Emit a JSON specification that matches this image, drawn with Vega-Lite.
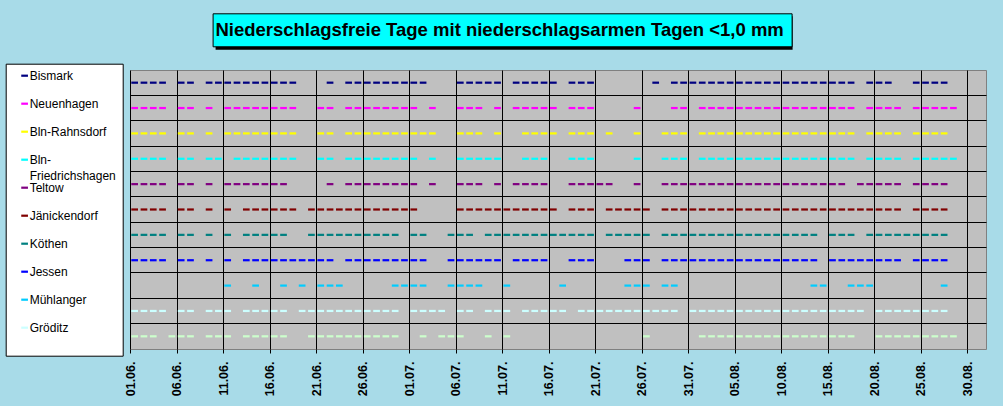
{
"$schema":"https://vega.github.io/schema/vega-lite/v6.json",
"width":856,"height":279,
"autosize":"none",
"padding":{"left":130,"top":70,"right":17,"bottom":57},
"background":"#a8dbe8",
"config":{"view":{"fill":"#c0c0c0","stroke":"#808080","strokeWidth":1},"font":"Liberation Sans"},
"data":{"values":[
{"s":"Bismark","d":"2024-06-01"},{"s":"Bismark","d":"2024-06-02"},{"s":"Bismark","d":"2024-06-03"},{"s":"Bismark","d":"2024-06-04"},{"s":"Bismark","d":"2024-06-06"},{"s":"Bismark","d":"2024-06-07"},{"s":"Bismark","d":"2024-06-09"},{"s":"Bismark","d":"2024-06-10"},{"s":"Bismark","d":"2024-06-11"},{"s":"Bismark","d":"2024-06-12"},{"s":"Bismark","d":"2024-06-13"},{"s":"Bismark","d":"2024-06-14"},{"s":"Bismark","d":"2024-06-15"},{"s":"Bismark","d":"2024-06-16"},{"s":"Bismark","d":"2024-06-17"},{"s":"Bismark","d":"2024-06-18"},{"s":"Bismark","d":"2024-06-22"},{"s":"Bismark","d":"2024-06-24"},{"s":"Bismark","d":"2024-06-25"},{"s":"Bismark","d":"2024-06-26"},{"s":"Bismark","d":"2024-06-27"},{"s":"Bismark","d":"2024-06-28"},{"s":"Bismark","d":"2024-06-29"},{"s":"Bismark","d":"2024-06-30"},
{"s":"Bismark","d":"2024-07-01"},{"s":"Bismark","d":"2024-07-02"},{"s":"Bismark","d":"2024-07-06"},{"s":"Bismark","d":"2024-07-07"},{"s":"Bismark","d":"2024-07-08"},{"s":"Bismark","d":"2024-07-09"},{"s":"Bismark","d":"2024-07-10"},{"s":"Bismark","d":"2024-07-12"},{"s":"Bismark","d":"2024-07-13"},{"s":"Bismark","d":"2024-07-14"},{"s":"Bismark","d":"2024-07-15"},{"s":"Bismark","d":"2024-07-16"},{"s":"Bismark","d":"2024-07-18"},{"s":"Bismark","d":"2024-07-19"},{"s":"Bismark","d":"2024-07-20"},{"s":"Bismark","d":"2024-07-27"},{"s":"Bismark","d":"2024-07-29"},{"s":"Bismark","d":"2024-07-30"},{"s":"Bismark","d":"2024-07-31"},
{"s":"Bismark","d":"2024-08-01"},{"s":"Bismark","d":"2024-08-02"},{"s":"Bismark","d":"2024-08-03"},{"s":"Bismark","d":"2024-08-04"},{"s":"Bismark","d":"2024-08-05"},{"s":"Bismark","d":"2024-08-06"},{"s":"Bismark","d":"2024-08-07"},{"s":"Bismark","d":"2024-08-08"},{"s":"Bismark","d":"2024-08-09"},{"s":"Bismark","d":"2024-08-10"},{"s":"Bismark","d":"2024-08-11"},{"s":"Bismark","d":"2024-08-12"},{"s":"Bismark","d":"2024-08-13"},{"s":"Bismark","d":"2024-08-14"},{"s":"Bismark","d":"2024-08-15"},{"s":"Bismark","d":"2024-08-16"},{"s":"Bismark","d":"2024-08-17"},{"s":"Bismark","d":"2024-08-19"},{"s":"Bismark","d":"2024-08-20"},{"s":"Bismark","d":"2024-08-21"},{"s":"Bismark","d":"2024-08-24"},{"s":"Bismark","d":"2024-08-25"},{"s":"Bismark","d":"2024-08-26"},{"s":"Bismark","d":"2024-08-27"},

{"s":"Neuenhagen","d":"2024-06-01"},{"s":"Neuenhagen","d":"2024-06-02"},{"s":"Neuenhagen","d":"2024-06-03"},{"s":"Neuenhagen","d":"2024-06-04"},{"s":"Neuenhagen","d":"2024-06-06"},{"s":"Neuenhagen","d":"2024-06-07"},{"s":"Neuenhagen","d":"2024-06-09"},{"s":"Neuenhagen","d":"2024-06-11"},{"s":"Neuenhagen","d":"2024-06-12"},{"s":"Neuenhagen","d":"2024-06-13"},{"s":"Neuenhagen","d":"2024-06-14"},{"s":"Neuenhagen","d":"2024-06-15"},{"s":"Neuenhagen","d":"2024-06-16"},{"s":"Neuenhagen","d":"2024-06-17"},{"s":"Neuenhagen","d":"2024-06-18"},{"s":"Neuenhagen","d":"2024-06-21"},{"s":"Neuenhagen","d":"2024-06-22"},{"s":"Neuenhagen","d":"2024-06-24"},{"s":"Neuenhagen","d":"2024-06-25"},{"s":"Neuenhagen","d":"2024-06-26"},{"s":"Neuenhagen","d":"2024-06-27"},{"s":"Neuenhagen","d":"2024-06-28"},{"s":"Neuenhagen","d":"2024-06-29"},{"s":"Neuenhagen","d":"2024-06-30"},
{"s":"Neuenhagen","d":"2024-07-01"},{"s":"Neuenhagen","d":"2024-07-03"},{"s":"Neuenhagen","d":"2024-07-06"},{"s":"Neuenhagen","d":"2024-07-07"},{"s":"Neuenhagen","d":"2024-07-08"},{"s":"Neuenhagen","d":"2024-07-10"},{"s":"Neuenhagen","d":"2024-07-12"},{"s":"Neuenhagen","d":"2024-07-13"},{"s":"Neuenhagen","d":"2024-07-14"},{"s":"Neuenhagen","d":"2024-07-15"},{"s":"Neuenhagen","d":"2024-07-16"},{"s":"Neuenhagen","d":"2024-07-18"},{"s":"Neuenhagen","d":"2024-07-19"},{"s":"Neuenhagen","d":"2024-07-20"},{"s":"Neuenhagen","d":"2024-07-25"},{"s":"Neuenhagen","d":"2024-07-29"},{"s":"Neuenhagen","d":"2024-07-30"},
{"s":"Neuenhagen","d":"2024-08-01"},{"s":"Neuenhagen","d":"2024-08-02"},{"s":"Neuenhagen","d":"2024-08-03"},{"s":"Neuenhagen","d":"2024-08-04"},{"s":"Neuenhagen","d":"2024-08-05"},{"s":"Neuenhagen","d":"2024-08-06"},{"s":"Neuenhagen","d":"2024-08-07"},{"s":"Neuenhagen","d":"2024-08-08"},{"s":"Neuenhagen","d":"2024-08-09"},{"s":"Neuenhagen","d":"2024-08-10"},{"s":"Neuenhagen","d":"2024-08-11"},{"s":"Neuenhagen","d":"2024-08-12"},{"s":"Neuenhagen","d":"2024-08-13"},{"s":"Neuenhagen","d":"2024-08-14"},{"s":"Neuenhagen","d":"2024-08-15"},{"s":"Neuenhagen","d":"2024-08-16"},{"s":"Neuenhagen","d":"2024-08-17"},{"s":"Neuenhagen","d":"2024-08-19"},{"s":"Neuenhagen","d":"2024-08-20"},{"s":"Neuenhagen","d":"2024-08-21"},{"s":"Neuenhagen","d":"2024-08-22"},{"s":"Neuenhagen","d":"2024-08-24"},{"s":"Neuenhagen","d":"2024-08-25"},{"s":"Neuenhagen","d":"2024-08-26"},{"s":"Neuenhagen","d":"2024-08-27"},{"s":"Neuenhagen","d":"2024-08-28"},

{"s":"Bln-Rahnsdorf","d":"2024-06-01"},{"s":"Bln-Rahnsdorf","d":"2024-06-02"},{"s":"Bln-Rahnsdorf","d":"2024-06-03"},{"s":"Bln-Rahnsdorf","d":"2024-06-04"},{"s":"Bln-Rahnsdorf","d":"2024-06-06"},{"s":"Bln-Rahnsdorf","d":"2024-06-07"},{"s":"Bln-Rahnsdorf","d":"2024-06-09"},{"s":"Bln-Rahnsdorf","d":"2024-06-11"},{"s":"Bln-Rahnsdorf","d":"2024-06-12"},{"s":"Bln-Rahnsdorf","d":"2024-06-13"},{"s":"Bln-Rahnsdorf","d":"2024-06-14"},{"s":"Bln-Rahnsdorf","d":"2024-06-15"},{"s":"Bln-Rahnsdorf","d":"2024-06-16"},{"s":"Bln-Rahnsdorf","d":"2024-06-17"},{"s":"Bln-Rahnsdorf","d":"2024-06-18"},{"s":"Bln-Rahnsdorf","d":"2024-06-21"},{"s":"Bln-Rahnsdorf","d":"2024-06-22"},{"s":"Bln-Rahnsdorf","d":"2024-06-24"},{"s":"Bln-Rahnsdorf","d":"2024-06-25"},{"s":"Bln-Rahnsdorf","d":"2024-06-26"},{"s":"Bln-Rahnsdorf","d":"2024-06-27"},{"s":"Bln-Rahnsdorf","d":"2024-06-28"},{"s":"Bln-Rahnsdorf","d":"2024-06-29"},{"s":"Bln-Rahnsdorf","d":"2024-06-30"},
{"s":"Bln-Rahnsdorf","d":"2024-07-01"},{"s":"Bln-Rahnsdorf","d":"2024-07-02"},{"s":"Bln-Rahnsdorf","d":"2024-07-03"},{"s":"Bln-Rahnsdorf","d":"2024-07-06"},{"s":"Bln-Rahnsdorf","d":"2024-07-07"},{"s":"Bln-Rahnsdorf","d":"2024-07-08"},{"s":"Bln-Rahnsdorf","d":"2024-07-10"},{"s":"Bln-Rahnsdorf","d":"2024-07-13"},{"s":"Bln-Rahnsdorf","d":"2024-07-14"},{"s":"Bln-Rahnsdorf","d":"2024-07-15"},{"s":"Bln-Rahnsdorf","d":"2024-07-16"},{"s":"Bln-Rahnsdorf","d":"2024-07-18"},{"s":"Bln-Rahnsdorf","d":"2024-07-19"},{"s":"Bln-Rahnsdorf","d":"2024-07-20"},{"s":"Bln-Rahnsdorf","d":"2024-07-22"},{"s":"Bln-Rahnsdorf","d":"2024-07-25"},{"s":"Bln-Rahnsdorf","d":"2024-07-28"},{"s":"Bln-Rahnsdorf","d":"2024-07-29"},{"s":"Bln-Rahnsdorf","d":"2024-07-30"},
{"s":"Bln-Rahnsdorf","d":"2024-08-01"},{"s":"Bln-Rahnsdorf","d":"2024-08-02"},{"s":"Bln-Rahnsdorf","d":"2024-08-03"},{"s":"Bln-Rahnsdorf","d":"2024-08-04"},{"s":"Bln-Rahnsdorf","d":"2024-08-05"},{"s":"Bln-Rahnsdorf","d":"2024-08-06"},{"s":"Bln-Rahnsdorf","d":"2024-08-07"},{"s":"Bln-Rahnsdorf","d":"2024-08-08"},{"s":"Bln-Rahnsdorf","d":"2024-08-09"},{"s":"Bln-Rahnsdorf","d":"2024-08-10"},{"s":"Bln-Rahnsdorf","d":"2024-08-11"},{"s":"Bln-Rahnsdorf","d":"2024-08-12"},{"s":"Bln-Rahnsdorf","d":"2024-08-13"},{"s":"Bln-Rahnsdorf","d":"2024-08-14"},{"s":"Bln-Rahnsdorf","d":"2024-08-15"},{"s":"Bln-Rahnsdorf","d":"2024-08-16"},{"s":"Bln-Rahnsdorf","d":"2024-08-17"},{"s":"Bln-Rahnsdorf","d":"2024-08-19"},{"s":"Bln-Rahnsdorf","d":"2024-08-20"},{"s":"Bln-Rahnsdorf","d":"2024-08-21"},{"s":"Bln-Rahnsdorf","d":"2024-08-22"},{"s":"Bln-Rahnsdorf","d":"2024-08-24"},{"s":"Bln-Rahnsdorf","d":"2024-08-25"},{"s":"Bln-Rahnsdorf","d":"2024-08-26"},{"s":"Bln-Rahnsdorf","d":"2024-08-27"},

{"s":"Bln-Friedrichshagen","d":"2024-06-01"},{"s":"Bln-Friedrichshagen","d":"2024-06-02"},{"s":"Bln-Friedrichshagen","d":"2024-06-03"},{"s":"Bln-Friedrichshagen","d":"2024-06-04"},{"s":"Bln-Friedrichshagen","d":"2024-06-06"},{"s":"Bln-Friedrichshagen","d":"2024-06-07"},{"s":"Bln-Friedrichshagen","d":"2024-06-09"},{"s":"Bln-Friedrichshagen","d":"2024-06-10"},{"s":"Bln-Friedrichshagen","d":"2024-06-12"},{"s":"Bln-Friedrichshagen","d":"2024-06-13"},{"s":"Bln-Friedrichshagen","d":"2024-06-14"},{"s":"Bln-Friedrichshagen","d":"2024-06-15"},{"s":"Bln-Friedrichshagen","d":"2024-06-16"},{"s":"Bln-Friedrichshagen","d":"2024-06-17"},{"s":"Bln-Friedrichshagen","d":"2024-06-18"},{"s":"Bln-Friedrichshagen","d":"2024-06-21"},{"s":"Bln-Friedrichshagen","d":"2024-06-22"},{"s":"Bln-Friedrichshagen","d":"2024-06-24"},{"s":"Bln-Friedrichshagen","d":"2024-06-25"},{"s":"Bln-Friedrichshagen","d":"2024-06-26"},{"s":"Bln-Friedrichshagen","d":"2024-06-27"},{"s":"Bln-Friedrichshagen","d":"2024-06-28"},{"s":"Bln-Friedrichshagen","d":"2024-06-29"},{"s":"Bln-Friedrichshagen","d":"2024-06-30"},
{"s":"Bln-Friedrichshagen","d":"2024-07-01"},{"s":"Bln-Friedrichshagen","d":"2024-07-03"},{"s":"Bln-Friedrichshagen","d":"2024-07-06"},{"s":"Bln-Friedrichshagen","d":"2024-07-07"},{"s":"Bln-Friedrichshagen","d":"2024-07-08"},{"s":"Bln-Friedrichshagen","d":"2024-07-09"},{"s":"Bln-Friedrichshagen","d":"2024-07-10"},{"s":"Bln-Friedrichshagen","d":"2024-07-13"},{"s":"Bln-Friedrichshagen","d":"2024-07-14"},{"s":"Bln-Friedrichshagen","d":"2024-07-15"},{"s":"Bln-Friedrichshagen","d":"2024-07-18"},{"s":"Bln-Friedrichshagen","d":"2024-07-19"},{"s":"Bln-Friedrichshagen","d":"2024-07-20"},{"s":"Bln-Friedrichshagen","d":"2024-07-25"},{"s":"Bln-Friedrichshagen","d":"2024-07-28"},{"s":"Bln-Friedrichshagen","d":"2024-07-29"},{"s":"Bln-Friedrichshagen","d":"2024-07-30"},
{"s":"Bln-Friedrichshagen","d":"2024-08-01"},{"s":"Bln-Friedrichshagen","d":"2024-08-02"},{"s":"Bln-Friedrichshagen","d":"2024-08-03"},{"s":"Bln-Friedrichshagen","d":"2024-08-04"},{"s":"Bln-Friedrichshagen","d":"2024-08-05"},{"s":"Bln-Friedrichshagen","d":"2024-08-06"},{"s":"Bln-Friedrichshagen","d":"2024-08-07"},{"s":"Bln-Friedrichshagen","d":"2024-08-08"},{"s":"Bln-Friedrichshagen","d":"2024-08-09"},{"s":"Bln-Friedrichshagen","d":"2024-08-10"},{"s":"Bln-Friedrichshagen","d":"2024-08-11"},{"s":"Bln-Friedrichshagen","d":"2024-08-12"},{"s":"Bln-Friedrichshagen","d":"2024-08-13"},{"s":"Bln-Friedrichshagen","d":"2024-08-14"},{"s":"Bln-Friedrichshagen","d":"2024-08-15"},{"s":"Bln-Friedrichshagen","d":"2024-08-16"},{"s":"Bln-Friedrichshagen","d":"2024-08-17"},{"s":"Bln-Friedrichshagen","d":"2024-08-19"},{"s":"Bln-Friedrichshagen","d":"2024-08-20"},{"s":"Bln-Friedrichshagen","d":"2024-08-21"},{"s":"Bln-Friedrichshagen","d":"2024-08-22"},{"s":"Bln-Friedrichshagen","d":"2024-08-24"},{"s":"Bln-Friedrichshagen","d":"2024-08-25"},{"s":"Bln-Friedrichshagen","d":"2024-08-26"},{"s":"Bln-Friedrichshagen","d":"2024-08-27"},{"s":"Bln-Friedrichshagen","d":"2024-08-28"},

{"s":"Teltow","d":"2024-06-01"},{"s":"Teltow","d":"2024-06-02"},{"s":"Teltow","d":"2024-06-03"},{"s":"Teltow","d":"2024-06-04"},{"s":"Teltow","d":"2024-06-06"},{"s":"Teltow","d":"2024-06-07"},{"s":"Teltow","d":"2024-06-09"},{"s":"Teltow","d":"2024-06-11"},{"s":"Teltow","d":"2024-06-12"},{"s":"Teltow","d":"2024-06-13"},{"s":"Teltow","d":"2024-06-14"},{"s":"Teltow","d":"2024-06-15"},{"s":"Teltow","d":"2024-06-16"},{"s":"Teltow","d":"2024-06-17"},{"s":"Teltow","d":"2024-06-22"},{"s":"Teltow","d":"2024-06-24"},{"s":"Teltow","d":"2024-06-25"},{"s":"Teltow","d":"2024-06-26"},{"s":"Teltow","d":"2024-06-27"},{"s":"Teltow","d":"2024-06-28"},{"s":"Teltow","d":"2024-06-29"},{"s":"Teltow","d":"2024-06-30"},
{"s":"Teltow","d":"2024-07-01"},{"s":"Teltow","d":"2024-07-03"},{"s":"Teltow","d":"2024-07-06"},{"s":"Teltow","d":"2024-07-07"},{"s":"Teltow","d":"2024-07-08"},{"s":"Teltow","d":"2024-07-10"},{"s":"Teltow","d":"2024-07-12"},{"s":"Teltow","d":"2024-07-13"},{"s":"Teltow","d":"2024-07-14"},{"s":"Teltow","d":"2024-07-15"},{"s":"Teltow","d":"2024-07-18"},{"s":"Teltow","d":"2024-07-19"},{"s":"Teltow","d":"2024-07-20"},{"s":"Teltow","d":"2024-07-21"},{"s":"Teltow","d":"2024-07-22"},{"s":"Teltow","d":"2024-07-25"},{"s":"Teltow","d":"2024-07-28"},{"s":"Teltow","d":"2024-07-29"},{"s":"Teltow","d":"2024-07-30"},{"s":"Teltow","d":"2024-07-31"},
{"s":"Teltow","d":"2024-08-01"},{"s":"Teltow","d":"2024-08-02"},{"s":"Teltow","d":"2024-08-03"},{"s":"Teltow","d":"2024-08-04"},{"s":"Teltow","d":"2024-08-05"},{"s":"Teltow","d":"2024-08-06"},{"s":"Teltow","d":"2024-08-07"},{"s":"Teltow","d":"2024-08-08"},{"s":"Teltow","d":"2024-08-09"},{"s":"Teltow","d":"2024-08-10"},{"s":"Teltow","d":"2024-08-11"},{"s":"Teltow","d":"2024-08-12"},{"s":"Teltow","d":"2024-08-13"},{"s":"Teltow","d":"2024-08-14"},{"s":"Teltow","d":"2024-08-15"},{"s":"Teltow","d":"2024-08-16"},{"s":"Teltow","d":"2024-08-18"},{"s":"Teltow","d":"2024-08-19"},{"s":"Teltow","d":"2024-08-20"},{"s":"Teltow","d":"2024-08-21"},{"s":"Teltow","d":"2024-08-22"},{"s":"Teltow","d":"2024-08-24"},{"s":"Teltow","d":"2024-08-25"},{"s":"Teltow","d":"2024-08-26"},{"s":"Teltow","d":"2024-08-27"},

{"s":"Jänickendorf","d":"2024-06-01"},{"s":"Jänickendorf","d":"2024-06-02"},{"s":"Jänickendorf","d":"2024-06-03"},{"s":"Jänickendorf","d":"2024-06-04"},{"s":"Jänickendorf","d":"2024-06-06"},{"s":"Jänickendorf","d":"2024-06-07"},{"s":"Jänickendorf","d":"2024-06-09"},{"s":"Jänickendorf","d":"2024-06-11"},{"s":"Jänickendorf","d":"2024-06-13"},{"s":"Jänickendorf","d":"2024-06-14"},{"s":"Jänickendorf","d":"2024-06-15"},{"s":"Jänickendorf","d":"2024-06-16"},{"s":"Jänickendorf","d":"2024-06-17"},{"s":"Jänickendorf","d":"2024-06-18"},{"s":"Jänickendorf","d":"2024-06-20"},{"s":"Jänickendorf","d":"2024-06-21"},{"s":"Jänickendorf","d":"2024-06-22"},{"s":"Jänickendorf","d":"2024-06-23"},{"s":"Jänickendorf","d":"2024-06-24"},{"s":"Jänickendorf","d":"2024-06-25"},{"s":"Jänickendorf","d":"2024-06-26"},{"s":"Jänickendorf","d":"2024-06-27"},{"s":"Jänickendorf","d":"2024-06-28"},{"s":"Jänickendorf","d":"2024-06-29"},{"s":"Jänickendorf","d":"2024-06-30"},
{"s":"Jänickendorf","d":"2024-07-01"},{"s":"Jänickendorf","d":"2024-07-06"},{"s":"Jänickendorf","d":"2024-07-07"},{"s":"Jänickendorf","d":"2024-07-08"},{"s":"Jänickendorf","d":"2024-07-09"},{"s":"Jänickendorf","d":"2024-07-10"},{"s":"Jänickendorf","d":"2024-07-11"},{"s":"Jänickendorf","d":"2024-07-12"},{"s":"Jänickendorf","d":"2024-07-13"},{"s":"Jänickendorf","d":"2024-07-14"},{"s":"Jänickendorf","d":"2024-07-15"},{"s":"Jänickendorf","d":"2024-07-16"},{"s":"Jänickendorf","d":"2024-07-18"},{"s":"Jänickendorf","d":"2024-07-19"},{"s":"Jänickendorf","d":"2024-07-20"},{"s":"Jänickendorf","d":"2024-07-22"},{"s":"Jänickendorf","d":"2024-07-23"},{"s":"Jänickendorf","d":"2024-07-24"},{"s":"Jänickendorf","d":"2024-07-25"},{"s":"Jänickendorf","d":"2024-07-26"},{"s":"Jänickendorf","d":"2024-07-28"},{"s":"Jänickendorf","d":"2024-07-29"},{"s":"Jänickendorf","d":"2024-07-30"},{"s":"Jänickendorf","d":"2024-07-31"},
{"s":"Jänickendorf","d":"2024-08-01"},{"s":"Jänickendorf","d":"2024-08-02"},{"s":"Jänickendorf","d":"2024-08-03"},{"s":"Jänickendorf","d":"2024-08-04"},{"s":"Jänickendorf","d":"2024-08-05"},{"s":"Jänickendorf","d":"2024-08-06"},{"s":"Jänickendorf","d":"2024-08-07"},{"s":"Jänickendorf","d":"2024-08-08"},{"s":"Jänickendorf","d":"2024-08-09"},{"s":"Jänickendorf","d":"2024-08-10"},{"s":"Jänickendorf","d":"2024-08-11"},{"s":"Jänickendorf","d":"2024-08-12"},{"s":"Jänickendorf","d":"2024-08-13"},{"s":"Jänickendorf","d":"2024-08-14"},{"s":"Jänickendorf","d":"2024-08-15"},{"s":"Jänickendorf","d":"2024-08-16"},{"s":"Jänickendorf","d":"2024-08-17"},{"s":"Jänickendorf","d":"2024-08-18"},{"s":"Jänickendorf","d":"2024-08-19"},{"s":"Jänickendorf","d":"2024-08-20"},{"s":"Jänickendorf","d":"2024-08-21"},{"s":"Jänickendorf","d":"2024-08-22"},{"s":"Jänickendorf","d":"2024-08-24"},{"s":"Jänickendorf","d":"2024-08-25"},{"s":"Jänickendorf","d":"2024-08-26"},{"s":"Jänickendorf","d":"2024-08-27"},

{"s":"Köthen","d":"2024-06-01"},{"s":"Köthen","d":"2024-06-02"},{"s":"Köthen","d":"2024-06-03"},{"s":"Köthen","d":"2024-06-04"},{"s":"Köthen","d":"2024-06-06"},{"s":"Köthen","d":"2024-06-07"},{"s":"Köthen","d":"2024-06-09"},{"s":"Köthen","d":"2024-06-11"},{"s":"Köthen","d":"2024-06-13"},{"s":"Köthen","d":"2024-06-14"},{"s":"Köthen","d":"2024-06-15"},{"s":"Köthen","d":"2024-06-16"},{"s":"Köthen","d":"2024-06-17"},{"s":"Köthen","d":"2024-06-20"},{"s":"Köthen","d":"2024-06-21"},{"s":"Köthen","d":"2024-06-22"},{"s":"Köthen","d":"2024-06-23"},{"s":"Köthen","d":"2024-06-24"},{"s":"Köthen","d":"2024-06-25"},{"s":"Köthen","d":"2024-06-26"},{"s":"Köthen","d":"2024-06-27"},{"s":"Köthen","d":"2024-06-28"},{"s":"Köthen","d":"2024-06-29"},
{"s":"Köthen","d":"2024-07-01"},{"s":"Köthen","d":"2024-07-02"},{"s":"Köthen","d":"2024-07-05"},{"s":"Köthen","d":"2024-07-06"},{"s":"Köthen","d":"2024-07-07"},{"s":"Köthen","d":"2024-07-09"},{"s":"Köthen","d":"2024-07-10"},{"s":"Köthen","d":"2024-07-11"},{"s":"Köthen","d":"2024-07-12"},{"s":"Köthen","d":"2024-07-13"},{"s":"Köthen","d":"2024-07-14"},{"s":"Köthen","d":"2024-07-15"},{"s":"Köthen","d":"2024-07-16"},{"s":"Köthen","d":"2024-07-17"},{"s":"Köthen","d":"2024-07-18"},{"s":"Köthen","d":"2024-07-19"},{"s":"Köthen","d":"2024-07-20"},{"s":"Köthen","d":"2024-07-22"},{"s":"Köthen","d":"2024-07-23"},{"s":"Köthen","d":"2024-07-24"},{"s":"Köthen","d":"2024-07-25"},{"s":"Köthen","d":"2024-07-26"},{"s":"Köthen","d":"2024-07-28"},{"s":"Köthen","d":"2024-07-29"},{"s":"Köthen","d":"2024-07-30"},{"s":"Köthen","d":"2024-07-31"},
{"s":"Köthen","d":"2024-08-01"},{"s":"Köthen","d":"2024-08-02"},{"s":"Köthen","d":"2024-08-03"},{"s":"Köthen","d":"2024-08-04"},{"s":"Köthen","d":"2024-08-05"},{"s":"Köthen","d":"2024-08-06"},{"s":"Köthen","d":"2024-08-07"},{"s":"Köthen","d":"2024-08-08"},{"s":"Köthen","d":"2024-08-09"},{"s":"Köthen","d":"2024-08-10"},{"s":"Köthen","d":"2024-08-11"},{"s":"Köthen","d":"2024-08-12"},{"s":"Köthen","d":"2024-08-13"},{"s":"Köthen","d":"2024-08-15"},{"s":"Köthen","d":"2024-08-16"},{"s":"Köthen","d":"2024-08-17"},{"s":"Köthen","d":"2024-08-19"},{"s":"Köthen","d":"2024-08-20"},{"s":"Köthen","d":"2024-08-21"},{"s":"Köthen","d":"2024-08-22"},{"s":"Köthen","d":"2024-08-23"},{"s":"Köthen","d":"2024-08-24"},{"s":"Köthen","d":"2024-08-25"},{"s":"Köthen","d":"2024-08-26"},{"s":"Köthen","d":"2024-08-27"},

{"s":"Jessen","d":"2024-06-01"},{"s":"Jessen","d":"2024-06-02"},{"s":"Jessen","d":"2024-06-03"},{"s":"Jessen","d":"2024-06-04"},{"s":"Jessen","d":"2024-06-06"},{"s":"Jessen","d":"2024-06-07"},{"s":"Jessen","d":"2024-06-09"},{"s":"Jessen","d":"2024-06-11"},{"s":"Jessen","d":"2024-06-13"},{"s":"Jessen","d":"2024-06-14"},{"s":"Jessen","d":"2024-06-15"},{"s":"Jessen","d":"2024-06-16"},{"s":"Jessen","d":"2024-06-17"},{"s":"Jessen","d":"2024-06-18"},{"s":"Jessen","d":"2024-06-19"},{"s":"Jessen","d":"2024-06-20"},{"s":"Jessen","d":"2024-06-21"},{"s":"Jessen","d":"2024-06-22"},{"s":"Jessen","d":"2024-06-24"},{"s":"Jessen","d":"2024-06-25"},{"s":"Jessen","d":"2024-06-26"},{"s":"Jessen","d":"2024-06-27"},{"s":"Jessen","d":"2024-06-28"},{"s":"Jessen","d":"2024-06-29"},{"s":"Jessen","d":"2024-06-30"},
{"s":"Jessen","d":"2024-07-01"},{"s":"Jessen","d":"2024-07-02"},{"s":"Jessen","d":"2024-07-05"},{"s":"Jessen","d":"2024-07-06"},{"s":"Jessen","d":"2024-07-07"},{"s":"Jessen","d":"2024-07-08"},{"s":"Jessen","d":"2024-07-09"},{"s":"Jessen","d":"2024-07-10"},{"s":"Jessen","d":"2024-07-12"},{"s":"Jessen","d":"2024-07-13"},{"s":"Jessen","d":"2024-07-14"},{"s":"Jessen","d":"2024-07-15"},{"s":"Jessen","d":"2024-07-18"},{"s":"Jessen","d":"2024-07-19"},{"s":"Jessen","d":"2024-07-20"},{"s":"Jessen","d":"2024-07-24"},{"s":"Jessen","d":"2024-07-25"},{"s":"Jessen","d":"2024-07-26"},{"s":"Jessen","d":"2024-07-28"},{"s":"Jessen","d":"2024-07-29"},{"s":"Jessen","d":"2024-07-30"},{"s":"Jessen","d":"2024-07-31"},
{"s":"Jessen","d":"2024-08-01"},{"s":"Jessen","d":"2024-08-02"},{"s":"Jessen","d":"2024-08-03"},{"s":"Jessen","d":"2024-08-04"},{"s":"Jessen","d":"2024-08-05"},{"s":"Jessen","d":"2024-08-06"},{"s":"Jessen","d":"2024-08-07"},{"s":"Jessen","d":"2024-08-08"},{"s":"Jessen","d":"2024-08-09"},{"s":"Jessen","d":"2024-08-10"},{"s":"Jessen","d":"2024-08-11"},{"s":"Jessen","d":"2024-08-12"},{"s":"Jessen","d":"2024-08-13"},{"s":"Jessen","d":"2024-08-15"},{"s":"Jessen","d":"2024-08-16"},{"s":"Jessen","d":"2024-08-17"},{"s":"Jessen","d":"2024-08-18"},{"s":"Jessen","d":"2024-08-19"},{"s":"Jessen","d":"2024-08-20"},{"s":"Jessen","d":"2024-08-21"},{"s":"Jessen","d":"2024-08-22"},{"s":"Jessen","d":"2024-08-24"},{"s":"Jessen","d":"2024-08-25"},{"s":"Jessen","d":"2024-08-26"},{"s":"Jessen","d":"2024-08-27"},

{"s":"Mühlanger","d":"2024-06-11"},{"s":"Mühlanger","d":"2024-06-14"},{"s":"Mühlanger","d":"2024-06-17"},{"s":"Mühlanger","d":"2024-06-19"},{"s":"Mühlanger","d":"2024-06-21"},{"s":"Mühlanger","d":"2024-06-22"},{"s":"Mühlanger","d":"2024-06-23"},{"s":"Mühlanger","d":"2024-06-29"},{"s":"Mühlanger","d":"2024-06-30"},{"s":"Mühlanger","d":"2024-07-01"},{"s":"Mühlanger","d":"2024-07-02"},{"s":"Mühlanger","d":"2024-07-05"},{"s":"Mühlanger","d":"2024-07-06"},{"s":"Mühlanger","d":"2024-07-07"},{"s":"Mühlanger","d":"2024-07-08"},{"s":"Mühlanger","d":"2024-07-11"},{"s":"Mühlanger","d":"2024-07-17"},{"s":"Mühlanger","d":"2024-07-24"},{"s":"Mühlanger","d":"2024-07-25"},{"s":"Mühlanger","d":"2024-07-26"},{"s":"Mühlanger","d":"2024-07-28"},{"s":"Mühlanger","d":"2024-07-29"},{"s":"Mühlanger","d":"2024-08-13"},{"s":"Mühlanger","d":"2024-08-14"},{"s":"Mühlanger","d":"2024-08-17"},{"s":"Mühlanger","d":"2024-08-18"},{"s":"Mühlanger","d":"2024-08-19"},{"s":"Mühlanger","d":"2024-08-27"},

{"s":"Gröditz","d":"2024-06-01"},{"s":"Gröditz","d":"2024-06-02"},{"s":"Gröditz","d":"2024-06-03"},{"s":"Gröditz","d":"2024-06-04"},{"s":"Gröditz","d":"2024-06-06"},{"s":"Gröditz","d":"2024-06-07"},{"s":"Gröditz","d":"2024-06-09"},{"s":"Gröditz","d":"2024-06-10"},{"s":"Gröditz","d":"2024-06-11"},{"s":"Gröditz","d":"2024-06-13"},{"s":"Gröditz","d":"2024-06-14"},{"s":"Gröditz","d":"2024-06-15"},{"s":"Gröditz","d":"2024-06-16"},{"s":"Gröditz","d":"2024-06-17"},{"s":"Gröditz","d":"2024-06-19"},{"s":"Gröditz","d":"2024-06-20"},{"s":"Gröditz","d":"2024-06-21"},{"s":"Gröditz","d":"2024-06-22"},{"s":"Gröditz","d":"2024-06-23"},{"s":"Gröditz","d":"2024-06-24"},{"s":"Gröditz","d":"2024-06-25"},{"s":"Gröditz","d":"2024-06-26"},{"s":"Gröditz","d":"2024-06-27"},{"s":"Gröditz","d":"2024-06-28"},{"s":"Gröditz","d":"2024-06-29"},
{"s":"Gröditz","d":"2024-07-01"},{"s":"Gröditz","d":"2024-07-02"},{"s":"Gröditz","d":"2024-07-03"},{"s":"Gröditz","d":"2024-07-04"},{"s":"Gröditz","d":"2024-07-06"},{"s":"Gröditz","d":"2024-07-07"},{"s":"Gröditz","d":"2024-07-09"},{"s":"Gröditz","d":"2024-07-10"},{"s":"Gröditz","d":"2024-07-11"},{"s":"Gröditz","d":"2024-07-13"},{"s":"Gröditz","d":"2024-07-14"},{"s":"Gröditz","d":"2024-07-15"},{"s":"Gröditz","d":"2024-07-16"},{"s":"Gröditz","d":"2024-07-17"},{"s":"Gröditz","d":"2024-07-19"},{"s":"Gröditz","d":"2024-07-20"},{"s":"Gröditz","d":"2024-07-21"},{"s":"Gröditz","d":"2024-07-22"},{"s":"Gröditz","d":"2024-07-23"},{"s":"Gröditz","d":"2024-07-24"},{"s":"Gröditz","d":"2024-07-25"},{"s":"Gröditz","d":"2024-07-26"},{"s":"Gröditz","d":"2024-07-27"},{"s":"Gröditz","d":"2024-07-28"},{"s":"Gröditz","d":"2024-07-29"},{"s":"Gröditz","d":"2024-07-31"},
{"s":"Gröditz","d":"2024-08-01"},{"s":"Gröditz","d":"2024-08-02"},{"s":"Gröditz","d":"2024-08-03"},{"s":"Gröditz","d":"2024-08-04"},{"s":"Gröditz","d":"2024-08-05"},{"s":"Gröditz","d":"2024-08-06"},{"s":"Gröditz","d":"2024-08-07"},{"s":"Gröditz","d":"2024-08-08"},{"s":"Gröditz","d":"2024-08-09"},{"s":"Gröditz","d":"2024-08-10"},{"s":"Gröditz","d":"2024-08-11"},{"s":"Gröditz","d":"2024-08-12"},{"s":"Gröditz","d":"2024-08-13"},{"s":"Gröditz","d":"2024-08-14"},{"s":"Gröditz","d":"2024-08-15"},{"s":"Gröditz","d":"2024-08-16"},{"s":"Gröditz","d":"2024-08-17"},{"s":"Gröditz","d":"2024-08-18"},{"s":"Gröditz","d":"2024-08-20"},{"s":"Gröditz","d":"2024-08-21"},{"s":"Gröditz","d":"2024-08-22"},{"s":"Gröditz","d":"2024-08-23"},{"s":"Gröditz","d":"2024-08-24"},{"s":"Gröditz","d":"2024-08-25"},{"s":"Gröditz","d":"2024-08-26"},{"s":"Gröditz","d":"2024-08-27"},

{"s":"K","d":"2024-06-01"},{"s":"K","d":"2024-06-02"},{"s":"K","d":"2024-06-03"},{"s":"K","d":"2024-06-05"},{"s":"K","d":"2024-06-06"},{"s":"K","d":"2024-06-07"},{"s":"K","d":"2024-06-09"},{"s":"K","d":"2024-06-10"},{"s":"K","d":"2024-06-11"},{"s":"K","d":"2024-06-13"},{"s":"K","d":"2024-06-14"},{"s":"K","d":"2024-06-15"},{"s":"K","d":"2024-06-16"},{"s":"K","d":"2024-06-17"},{"s":"K","d":"2024-06-20"},{"s":"K","d":"2024-06-21"},{"s":"K","d":"2024-06-22"},{"s":"K","d":"2024-06-23"},{"s":"K","d":"2024-06-24"},{"s":"K","d":"2024-06-25"},{"s":"K","d":"2024-06-26"},{"s":"K","d":"2024-06-27"},{"s":"K","d":"2024-06-28"},{"s":"K","d":"2024-06-29"},
{"s":"K","d":"2024-07-02"},{"s":"K","d":"2024-07-04"},{"s":"K","d":"2024-07-05"},{"s":"K","d":"2024-07-06"},{"s":"K","d":"2024-07-09"},{"s":"K","d":"2024-07-11"},{"s":"K","d":"2024-07-26"},
{"s":"K","d":"2024-08-01"},{"s":"K","d":"2024-08-02"},{"s":"K","d":"2024-08-03"},{"s":"K","d":"2024-08-04"},{"s":"K","d":"2024-08-05"},{"s":"K","d":"2024-08-06"},{"s":"K","d":"2024-08-07"},{"s":"K","d":"2024-08-08"},{"s":"K","d":"2024-08-09"},{"s":"K","d":"2024-08-10"},{"s":"K","d":"2024-08-11"},{"s":"K","d":"2024-08-12"},{"s":"K","d":"2024-08-13"},{"s":"K","d":"2024-08-14"},{"s":"K","d":"2024-08-15"},{"s":"K","d":"2024-08-16"},{"s":"K","d":"2024-08-17"},{"s":"K","d":"2024-08-20"},{"s":"K","d":"2024-08-21"},{"s":"K","d":"2024-08-22"},{"s":"K","d":"2024-08-23"},{"s":"K","d":"2024-08-24"},{"s":"K","d":"2024-08-25"},{"s":"K","d":"2024-08-26"},{"s":"K","d":"2024-08-27"},{"s":"K","d":"2024-08-28"}
]},
"mark":{"type":"point","shape":"M-1,-0.33L1,-0.33L1,0.33L-1,0.33Z","filled":true,"size":45,"opacity":1},
"encoding":{
"x":{"field":"d","type":"temporal","timeUnit":"utcyearmonthdate","bandPosition":0.5,
 "scale":{"type":"utc","domain":[{"year":2024,"month":6,"date":1,"utc":true},{"year":2024,"month":9,"date":1,"utc":true}]},
 "axis":{"title":null,"format":"%d.%m.","labelAngle":-90,"labelFont":"Liberation Sans","labelFontWeight":"bold","labelFontSize":12.5,"labelColor":"black","labelPadding":8,"tickSize":4,"tickColor":"black","domain":false,"grid":true,"gridColor":"black","gridOpacity":1,"gridWidth":1,"labelOverlap":false,"labelFlush":false,"labelBound":false,
  "values":[{"year":2024,"month":6,"date":1,"utc":true},{"year":2024,"month":6,"date":6,"utc":true},{"year":2024,"month":6,"date":11,"utc":true},{"year":2024,"month":6,"date":16,"utc":true},{"year":2024,"month":6,"date":21,"utc":true},{"year":2024,"month":6,"date":26,"utc":true},{"year":2024,"month":7,"date":1,"utc":true},{"year":2024,"month":7,"date":6,"utc":true},{"year":2024,"month":7,"date":11,"utc":true},{"year":2024,"month":7,"date":16,"utc":true},{"year":2024,"month":7,"date":21,"utc":true},{"year":2024,"month":7,"date":26,"utc":true},{"year":2024,"month":7,"date":31,"utc":true},{"year":2024,"month":8,"date":5,"utc":true},{"year":2024,"month":8,"date":10,"utc":true},{"year":2024,"month":8,"date":15,"utc":true},{"year":2024,"month":8,"date":20,"utc":true},{"year":2024,"month":8,"date":25,"utc":true},{"year":2024,"month":8,"date":30,"utc":true}]}},
"y":{"field":"s","type":"nominal",
 "scale":{"type":"band","paddingInner":0,"paddingOuter":0,"domain":["Bismark","Neuenhagen","Bln-Rahnsdorf","Bln-Friedrichshagen","Teltow","Jänickendorf","Köthen","Jessen","Mühlanger","Gröditz","K"]},
 "axis":{"title":null,"labels":false,"ticks":false,"domain":false,"grid":true,"gridColor":"black","gridOpacity":1,"gridWidth":1,"bandPosition":0,
  "values":["Neuenhagen","Bln-Rahnsdorf","Bln-Friedrichshagen","Teltow","Jänickendorf","Köthen","Jessen","Mühlanger","Gröditz","K"]}},
"color":{"field":"s","type":"nominal",
 "scale":{"domain":["Bismark","Neuenhagen","Bln-Rahnsdorf","Bln-Friedrichshagen","Teltow","Jänickendorf","Köthen","Jessen","Mühlanger","Gröditz","K"],
  "range":["#000080","#ff00ff","#ffff00","#00ffff","#800080","#800000","#008080","#0000ff","#00ccff","#ccffff","#ccffcc"]},
 "legend":{"orient":"none","legendX":-124.3,"legendY":-6.3,"title":null,"zindex":0,
  "values":["Bismark","Neuenhagen","Bln-Rahnsdorf","Bln-Friedrichshagen","Teltow","Jänickendorf","Köthen","Jessen","Mühlanger","Gröditz"],
  "symbolType":"M-1,-0.33L1,-0.33L1,0.33L-1,0.33Z","symbolSize":45,"symbolStrokeWidth":0,"symbolOpacity":1,"symbolOffset":6.9,"labelOffset":-0.9,
  "padding":6,"rowPadding":0,"fillColor":"white","strokeColor":"black",
  "labelFont":"Liberation Sans","labelFontSize":12,"labelColor":"black","labelLimit":200,
  "labelExpr":"datum.label == 'Bln-Friedrichshagen' ? ['Bln-', 'Friedrichshagen'] : [datum.label, '']",
  "encode":{"labels":{"update":{"lineHeight":{"value":16}}}}}},
"shape":{"datum":"Niederschlagsfreie Tage mit niederschlagsarmen Tagen <1,0 mm","type":"nominal","scale":{"range":["M-1,-0.33L1,-0.33L1,0.33L-1,0.33Z"]},
 "legend":{"orient":"none","legendX":82.6,"legendY":-56.7,"zindex":3,"title":null,"padding":7,"symbolSize":0,"symbolOpacity":0,"symbolStrokeWidth":0,"labelOffset":-22.7,
  "labelFont":"Liberation Sans","labelFontSize":18.5,"labelFontWeight":"bold","labelColor":"black","labelLimit":0,"fillColor":"#00ffff","strokeColor":"black"}},
"strokeDash":{"datum":"Schatten","type":"nominal","scale":{"range":[[1,0]]},
 "legend":{"orient":"none","legendX":85.6,"legendY":-325.4,"zindex":2,"title":null,"padding":0,
  "symbolType":"M-1,-0.058L1,-0.058L1,0.058L-1,0.058Z","symbolSize":332929,"symbolFillColor":"black","symbolStrokeColor":"black","symbolStrokeWidth":0,"symbolOpacity":1,
  "labelExpr":"''","labelOffset":0,
  "encode":{"symbols":{"update":{"fill":{"value":"black"},"stroke":{"value":"black"},"opacity":{"value":1},"strokeWidth":{"value":0}}}}}}
}
}
